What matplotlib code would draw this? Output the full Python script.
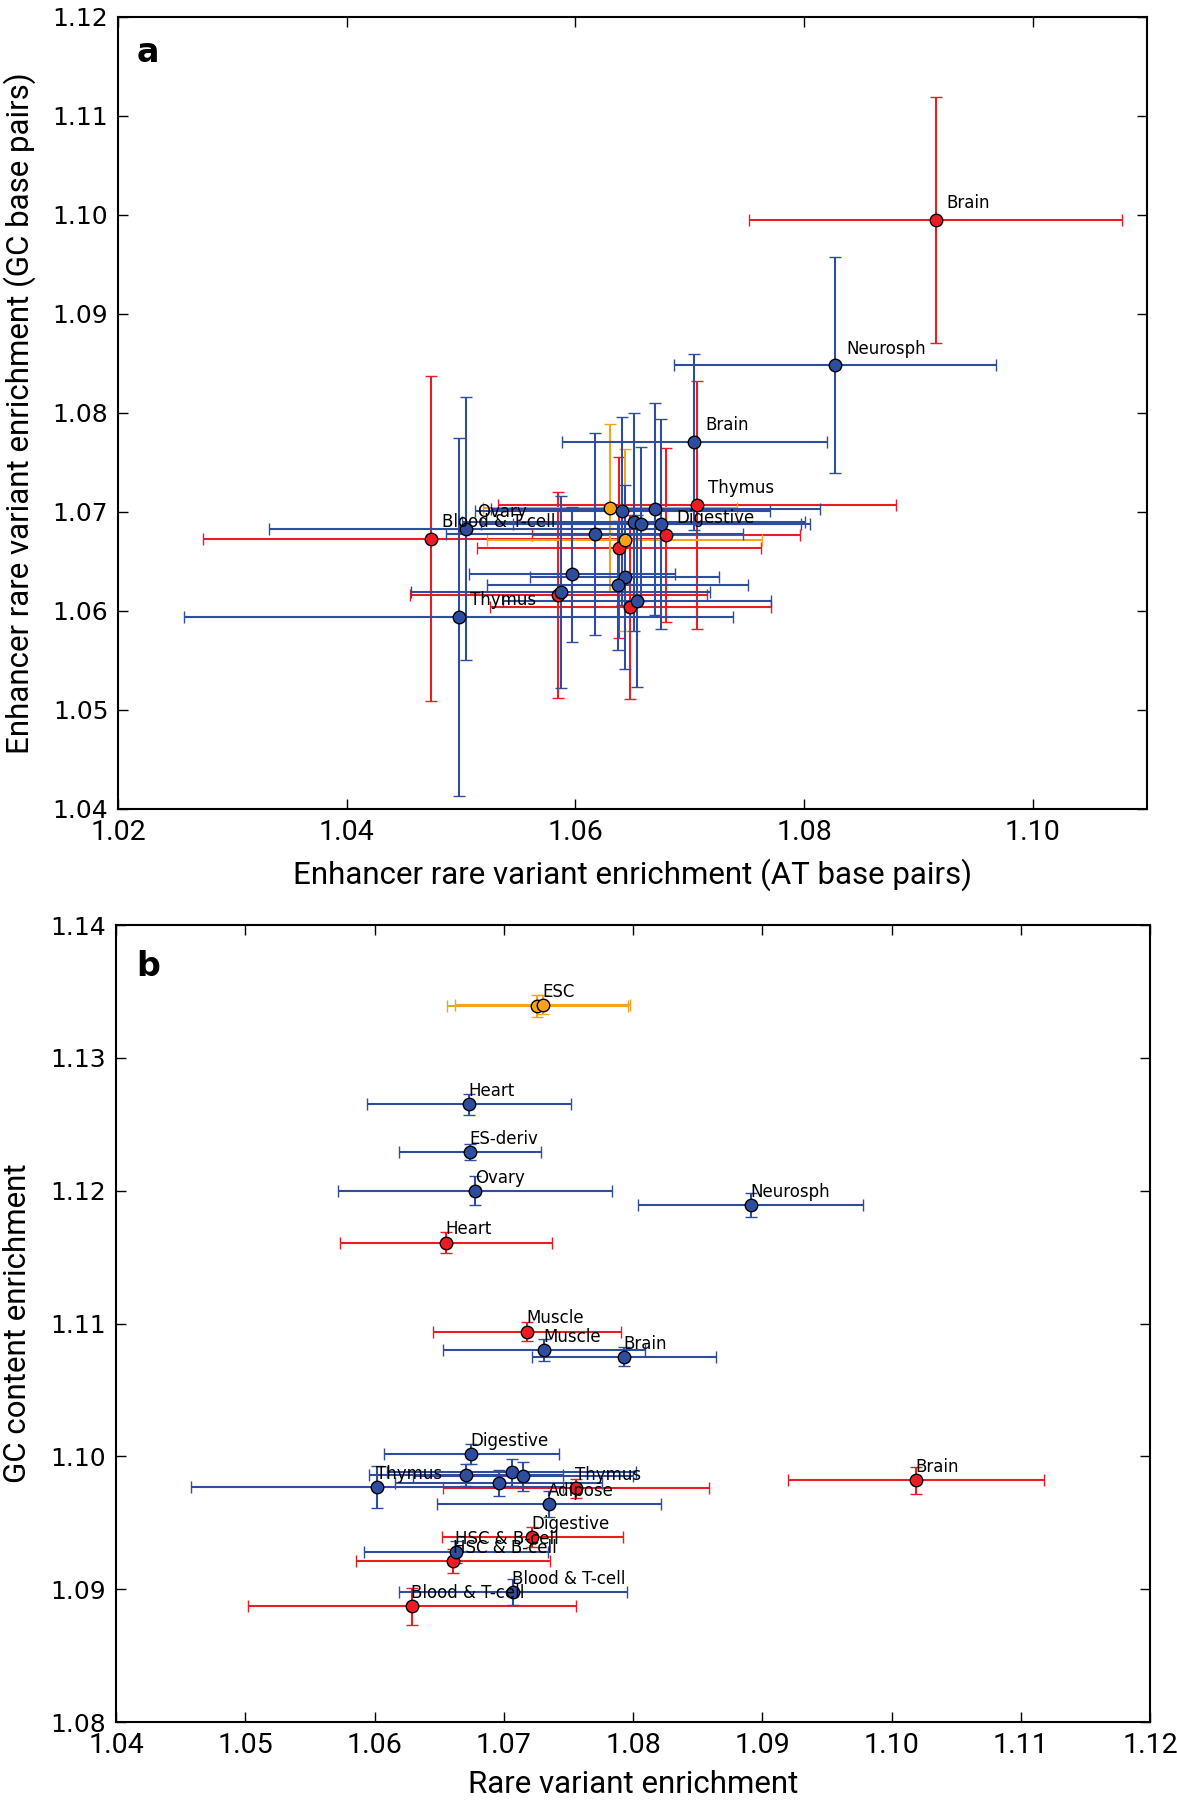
import matplotlib
matplotlib.use('Agg')
import matplotlib.pyplot as plt
import numpy as np

# colours for the three groups
RED = '#ec1c24'
BLUE = '#2f4d9e'
ORANGE = '#f5a41a'
NARROW = ['Roboto', 'DejaVu Sans']

# ---- panel a: AT vs GC enrichment ----
a_red_x = [1.0915, 1.0474, 1.0706, 1.0679, 1.0638, 1.0585, 1.0648]
a_red_y = [1.0995, 1.0673, 1.0707, 1.0677, 1.0664, 1.0616, 1.0604]
a_red_xerr = [0.0163, 0.0200, 0.0174, 0.0117, 0.0124, 0.0130, 0.0123]
a_red_yerr = [0.0124, 0.0164, 0.0125, 0.0088, 0.0091, 0.0104, 0.0093]
a_red_names = ['Brain', 'Blood & T-cell', 'Thymus', 'Digestive', '', '', '']

a_orange_x = [1.0630, 1.0643]
a_orange_y = [1.0704, 1.0672]
a_orange_xerr = [0.0111, 0.0120]
a_orange_yerr = [0.0085, 0.0092]
a_orange_names = ['', '']

a_blue_x = [1.0704, 1.0827, 1.0504, 1.0498, 1.0641, 1.0670, 1.0651, 1.0657,
            1.0675, 1.0617, 1.0597, 1.0643, 1.0637, 1.0587, 1.0654]
a_blue_y = [1.0771, 1.0848, 1.0683, 1.0594, 1.0701, 1.0703, 1.0690, 1.0688,
            1.0688, 1.0678, 1.0637, 1.0634, 1.0626, 1.0619, 1.0610]
a_blue_xerr = [0.0116, 0.0141, 0.0172, 0.0240, 0.0129, 0.0144, 0.0150, 0.0140,
               0.0130, 0.0130, 0.0090, 0.0083, 0.0114, 0.0131, 0.0117]
a_blue_yerr = [0.0089, 0.0109, 0.0133, 0.0181, 0.0095, 0.0107, 0.0110, 0.0078,
               0.0106, 0.0102, 0.0068, 0.0093, 0.0065, 0.0097, 0.0087]
a_blue_names = ['Brain', 'Neurosph', 'Ovary', 'Thymus', '', '', '', '',
                '', '', '', '', '', '', '']

# ---- panel b: rare variant vs GC content enrichment ----
b_red_x = [1.0655, 1.0718, 1.1019, 1.0756, 1.0722, 1.0661, 1.0629]
b_red_y = [1.1161, 1.1094, 1.0982, 1.0976, 1.0939, 1.0921, 1.0887]
b_red_xerr = [0.0082, 0.0073, 0.0099, 0.0103, 0.0070, 0.0075, 0.0127]
b_red_yerr = [0.0008, 0.00075, 0.0010, 0.0007, 0.00075, 0.0009, 0.0014]
b_red_names = ['Heart', 'Muscle', 'Brain', 'Thymus', 'Digestive',
               'HSC & B-cell', 'Blood & T-cell']

b_orange_x = [1.0726, 1.0730]
b_orange_y = [1.1339, 1.1340]
b_orange_xerr = [0.0070, 0.0068]
b_orange_yerr = [0.0008, 0.0007]
b_orange_names = ['', 'ESC']

b_blue_x = [1.0673, 1.0674, 1.0678, 1.0891, 1.0731, 1.0793, 1.0675, 1.0602,
            1.0671, 1.0706, 1.0715, 1.0696, 1.0735, 1.0663, 1.0707]
b_blue_y = [1.1265, 1.1229, 1.1200, 1.1189, 1.1080, 1.1075, 1.1002, 1.0977,
            1.0986, 1.0988, 1.0985, 1.0980, 1.0964, 1.0928, 1.0898]
b_blue_xerr = [0.0079, 0.0055, 0.0106, 0.0087, 0.0078, 0.0071, 0.0068, 0.0144,
               0.0075, 0.0096, 0.0085, 0.0080, 0.0087, 0.0071, 0.0088]
b_blue_yerr = [0.0008, 0.0006, 0.0011, 0.0009, 0.0008, 0.0007, 0.00075, 0.0016,
               0.0008, 0.0010, 0.0011, 0.0010, 0.0010, 0.0008, 0.0010]
b_blue_names = ['Heart', 'ES-deriv', 'Ovary', 'Neurosph', 'Muscle', 'Brain',
                'Digestive', 'Thymus', '', '', '', '', 'Adipose',
                'HSC & B-cell', 'Blood & T-cell']


def draw_group(ax, x, y, xerr, yerr, color):
    ax.errorbar(x, y, xerr=xerr, yerr=yerr, fmt='o', color=color, ecolor=color,
                mec='black', mew=1.0, ms=9, capsize=4.5, capthick=1.3,
                elinewidth=1.5, zorder=3)


def label_group(ax, x, y, names, offset):
    for xi, yi, name in zip(x, y, names):
        if name:
            ax.annotate(name, (xi, yi), xytext=offset, textcoords='offset points',
                        ha='left', va='center', fontsize=12, zorder=10)


def style_axes(ax, xticks, yticks, xlim, ylim):
    ax.set_xlim(xlim)
    ax.set_ylim(ylim)
    ax.set_xticks(xticks, ['%.2f' % t for t in xticks], fontfamily=NARROW, fontsize=20.5)
    ax.set_yticks(yticks, ['%.2f' % t for t in yticks], fontsize=18)
    ax.tick_params(direction='in', top=True, right=True, length=7, width=1)
    ax.tick_params(axis='x', pad=7)
    ax.tick_params(axis='y', pad=7)
    for sp in ax.spines.values():
        sp.set_linewidth(1.5)


fig = plt.figure(figsize=(11.77, 18), dpi=100)

ax_a = fig.add_axes([0.1003, 0.5506, 0.8743, 0.44])
draw_group(ax_a, a_red_x, a_red_y, a_red_xerr, a_red_yerr, RED)
draw_group(ax_a, a_orange_x, a_orange_y, a_orange_xerr, a_orange_yerr, ORANGE)
draw_group(ax_a, a_blue_x, a_blue_y, a_blue_xerr, a_blue_yerr, BLUE)
for xs, ys, ns in [(a_red_x, a_red_y, a_red_names), (a_blue_x, a_blue_y, a_blue_names)]:
    label_group(ax_a, xs, ys, ns, (8, 12))
style_axes(ax_a, np.arange(1.02, 1.101, 0.02), np.arange(1.04, 1.121, 0.01),
           (1.02, 1.11), (1.04, 1.12))
ax_a.set_xlabel('Enhancer rare variant enrichment (AT base pairs)', fontfamily=NARROW, fontsize=22.5)
ax_a.set_ylabel('Enhancer rare variant enrichment (GC base pairs)', fontfamily=NARROW, fontsize=22.5)
ax_a.xaxis.set_label_coords(0.5, -0.063)
ax_a.yaxis.set_label_coords(-0.080, 0.5)
ax_a.text(0.018, 0.955, 'a', transform=ax_a.transAxes, fontsize=24, fontweight='bold',
          ha='left', va='center')

ax_b = fig.add_axes([0.0986, 0.0433, 0.8785, 0.4428])
draw_group(ax_b, b_red_x, b_red_y, b_red_xerr, b_red_yerr, RED)
draw_group(ax_b, b_orange_x, b_orange_y, b_orange_xerr, b_orange_yerr, ORANGE)
draw_group(ax_b, b_blue_x, b_blue_y, b_blue_xerr, b_blue_yerr, BLUE)
for xs, ys, ns in [(b_red_x, b_red_y, b_red_names), (b_orange_x, b_orange_y, b_orange_names),
                   (b_blue_x, b_blue_y, b_blue_names)]:
    label_group(ax_b, xs, ys, ns, (-0.5, 9.5))
style_axes(ax_b, np.arange(1.04, 1.121, 0.01), np.arange(1.08, 1.141, 0.01),
           (1.04, 1.12), (1.08, 1.14))
ax_b.set_xlabel('Rare variant enrichment', fontfamily=NARROW, fontsize=22.5)
ax_b.set_ylabel('GC content enrichment', fontfamily=NARROW, fontsize=22.5)
ax_b.xaxis.set_label_coords(0.5, -0.060)
ax_b.yaxis.set_label_coords(-0.081, 0.5)
ax_b.text(0.02, 0.948, 'b', transform=ax_b.transAxes, fontsize=24, fontweight='bold',
          ha='left', va='center')

fig.savefig('out.png', dpi=100, facecolor='white')
